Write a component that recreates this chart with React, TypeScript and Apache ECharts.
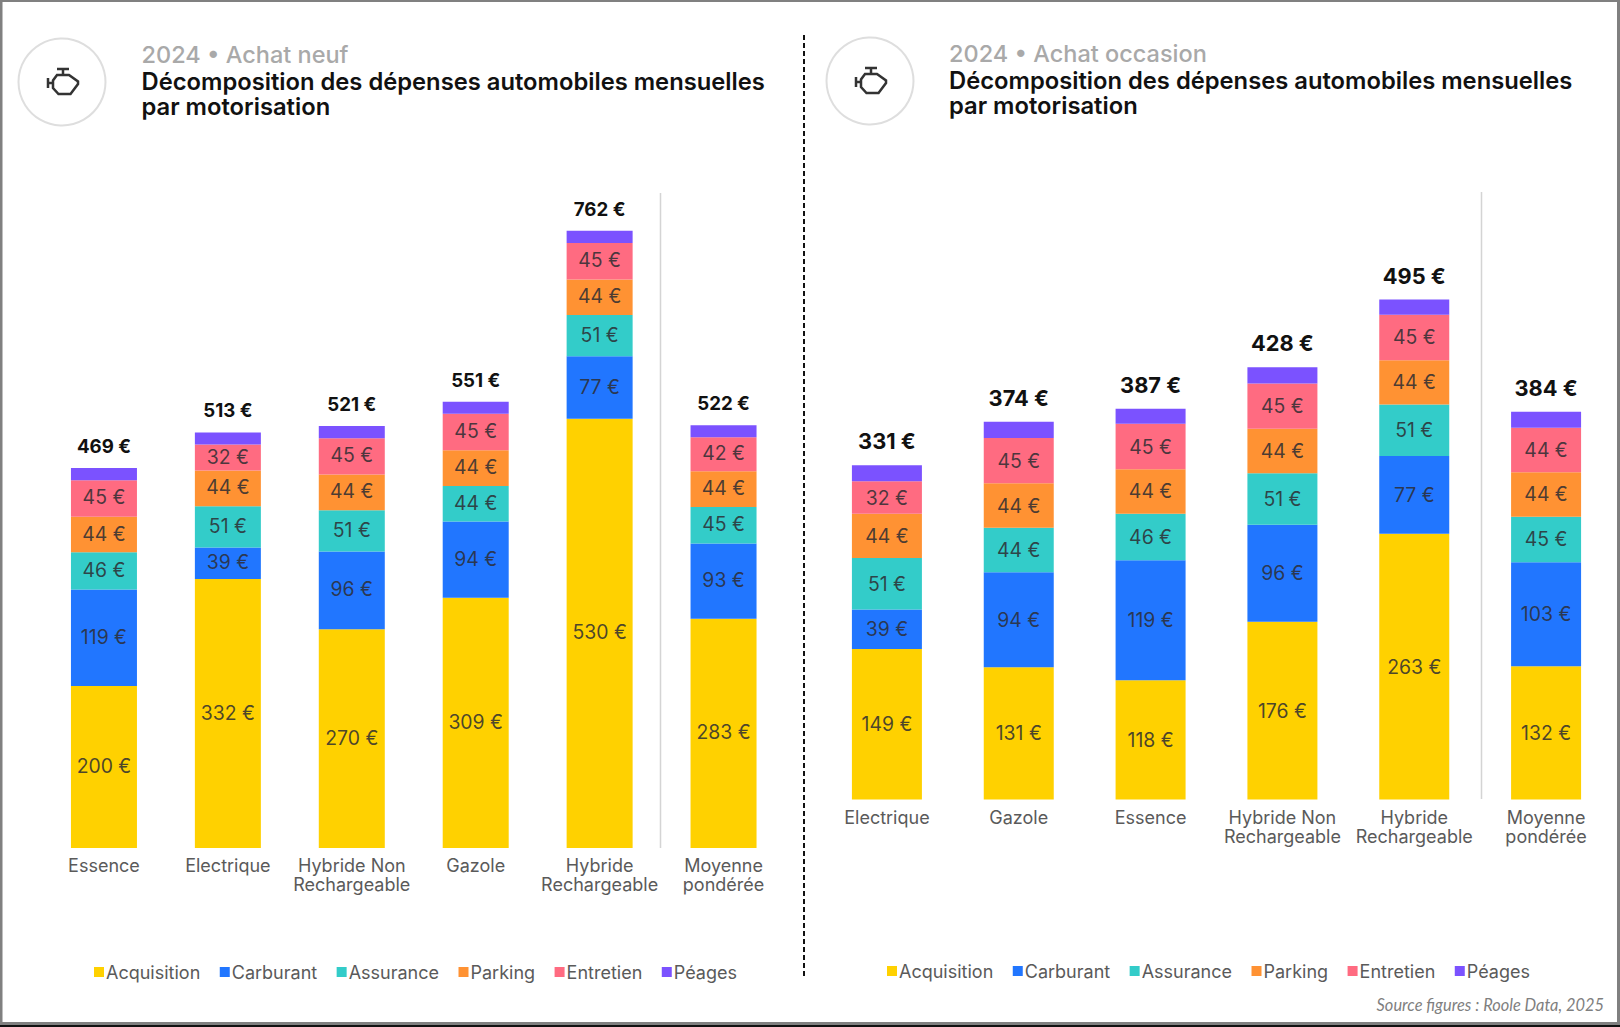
import React, { useEffect, useRef } from "react";
import * as echarts from "echarts";

const seriesNames = ["Acquisition", "Carburant", "Assurance", "Parking", "Entretien", "Péages"];
const seriesColors = ["#FFD100", "#2176FF", "#33CCC9", "#FF9233", "#FF6B81", "#7B52FF"];

const categoriesNeuf = ["Essence", "Electrique", "Hybride Non\nRechargeable", "Gazole", "Hybride\nRechargeable", "Moyenne\npondérée"];
const acquisitionNeuf = [200, 332, 270, 309, 530, 283];
const carburantNeuf = [119, 39, 96, 94, 77, 93];
const assuranceNeuf = [46, 51, 51, 44, 51, 45];
const parkingNeuf = [44, 44, 44, 44, 44, 44];
const entretienNeuf = [45, 32, 45, 45, 45, 42];
const peagesNeuf = [15, 15, 15, 15, 15, 15];
const totalNeuf = [469, 513, 521, 551, 762, 522];

const categoriesOccasion = ["Electrique", "Gazole", "Essence", "Hybride Non\nRechargeable", "Hybride\nRechargeable", "Moyenne\npondérée"];
const acquisitionOccasion = [149, 131, 118, 176, 263, 132];
const carburantOccasion = [39, 94, 119, 96, 77, 103];
const assuranceOccasion = [51, 44, 46, 51, 51, 45];
const parkingOccasion = [44, 44, 44, 44, 44, 44];
const entretienOccasion = [32, 45, 45, 45, 45, 44];
const peagesOccasion = [16, 16, 15, 16, 15, 16];
const totalOccasion = [331, 374, 387, 428, 495, 384];

const titleMain = "Décomposition des dépenses automobiles mensuelles\npar motorisation";
const FONT = "Inter";

echarts.graphic.registerShape(
  "engine",
  echarts.graphic.extendPath(
    "M1 10V20M1 15H6M10 1H22M16 1V6M10 7H22L31 13.5V16L23.5 26H11.5L6 20V12.5Z",
    {}
  )
);

function stack(
  values: number[][],
  totals: number[],
  axis: number,
  barWidth: number,
  totalFont: number,
  totalDist: number,
  labelShift: number
) {
  return values.map((data, i) => ({
    name: seriesNames[i],
    type: "bar",
    stack: "s" + axis,
    xAxisIndex: axis,
    yAxisIndex: axis,
    barWidth,
    data,
    itemStyle: { color: seriesColors[i] },
    label:
      i < 5
        ? {
            show: true,
            position: "inside",
            offset: [0, labelShift],
            formatter: "{c} €",
            fontFamily: FONT,
            fontSize: 19.4,
            color: "rgba(45,45,50,0.85)",
          }
        : {
            show: true,
            position: "top",
            distance: totalDist,
            formatter: (p: any) => totals[p.dataIndex] + " €",
            fontFamily: FONT,
            fontSize: totalFont,
            fontWeight: 700,
            color: "#111",
          },
  }));
}

function header(x: number, cx: number, cy: number, sub: string, subY: number, mainY: number) {
  return [
    {
      type: "circle",
      shape: { cx, cy, r: 43.5 },
      style: { fill: "#fff", stroke: "#dedede", lineWidth: 2 },
    },
    {
      type: "engine",
      x: cx - 15,
      y: cy - 14,
      style: { fill: "none", stroke: "#333", lineWidth: 2.5 },
    },
    {
      type: "text",
      x,
      y: subY,
      style: { text: sub, font: `500 23.5px ${FONT}`, fill: "#a9a9a9", textVerticalAlign: "middle" },
    },
    {
      type: "text",
      x,
      y: mainY,
      style: {
        text: titleMain,
        font: `600 23.75px ${FONT}`,
        fill: "#111",
        lineHeight: 25,
        textVerticalAlign: "top",
      },
    },
  ];
}

const frame = [
  { x: 0, y: 0, width: 1620, height: 2, fill: "#808080" },
  { x: 0, y: 0, width: 2.5, height: 1027, fill: "#808080" },
  { x: 1617, y: 0, width: 3, height: 1027, fill: "#808080" },
  { x: 0, y: 1022, width: 1620, height: 3, fill: "#808080" },
  { x: 0, y: 1025, width: 1620, height: 2, fill: "#111" },
];

export default function App() {
  const ref = useRef<HTMLDivElement>(null);
  useEffect(() => {
    const chart = echarts.init(ref.current!, null, { renderer: "svg" });
    const xAxisCommon = {
      type: "category",
      axisLine: { show: false },
      axisTick: { show: false },
      axisLabel: {
        interval: 0,
        hideOverlap: false,
        fontFamily: FONT,
        fontSize: 18,
        lineHeight: 19,
        color: "#5a5a5a",
        margin: 8,
      },
    };
    const legendCommon = {
      orient: "horizontal",
      selectedMode: false,
      itemWidth: 10,
      itemHeight: 10,
      itemGap: 19.5,
      icon: "rect",
      textStyle: { fontFamily: FONT, fontSize: 18, color: "#5a5a5a", padding: [0, 0, 0, -3] },
      data: seriesNames,
    };
    chart.setOption({
      animation: false,
      backgroundColor: "#fff",
      grid: [
        { left: 42, width: 743.5, top: 200, height: 648 },
        { left: 821, width: 791, top: 193.5, height: 606 },
      ],
      xAxis: [
        { ...xAxisCommon, gridIndex: 0, data: categoriesNeuf },
        { ...xAxisCommon, gridIndex: 1, data: categoriesOccasion },
      ],
      yAxis: [
        { type: "value", gridIndex: 0, min: 0, max: 800, show: false },
        { type: "value", gridIndex: 1, min: 0, max: 600, show: false },
      ],
      legend: [
        { ...legendCommon, left: 89, top: 958 },
        { ...legendCommon, left: 882, top: 957 },
      ],
      series: [
        ...stack(
          [acquisitionNeuf, carburantNeuf, assuranceNeuf, parkingNeuf, entretienNeuf, peagesNeuf],
          totalNeuf,
          0,
          66,
          18.7,
          12,
          -1
        ),
        ...stack(
          [acquisitionOccasion, carburantOccasion, assuranceOccasion, parkingOccasion, entretienOccasion, peagesOccasion],
          totalOccasion,
          1,
          70,
          21.8,
          13,
          0
        ),
      ],
      graphic: [
        ...frame.map((f) => ({
          type: "rect",
          shape: { x: f.x, y: f.y, width: f.width, height: f.height },
          style: { fill: f.fill },
        })),
        {
          type: "line",
          shape: { x1: 804, y1: 35, x2: 804, y2: 979 },
          style: { stroke: "#111", lineWidth: 2, lineDash: [5, 3] },
        },
        {
          type: "line",
          shape: { x1: 660.5, y1: 193, x2: 660.5, y2: 848 },
          style: { stroke: "#d4d4d4", lineWidth: 1.5 },
        },
        {
          type: "line",
          shape: { x1: 1481.5, y1: 192, x2: 1481.5, y2: 799 },
          style: { stroke: "#d4d4d4", lineWidth: 1.5 },
        },
        ...header(141.5, 62, 82, "2024 • Achat neuf", 54, 69),
        ...header(949, 870, 81, "2024 • Achat occasion", 53, 68),
        {
          type: "text",
          x: 1604,
          y: 1004,
          style: {
            text: "Source figures : Roole Data, 2025",
            font: "italic 16.4px Lato",
            fill: "#7f7f7f",
            textAlign: "right",
            textVerticalAlign: "middle",
          },
        },
      ],
    });
    return () => chart.dispose();
  }, []);
  return (
    <div
      ref={ref}
      style={{ position: "absolute", left: 0, top: 0, width: 1620, height: 1027 }}
    />
  );
}
